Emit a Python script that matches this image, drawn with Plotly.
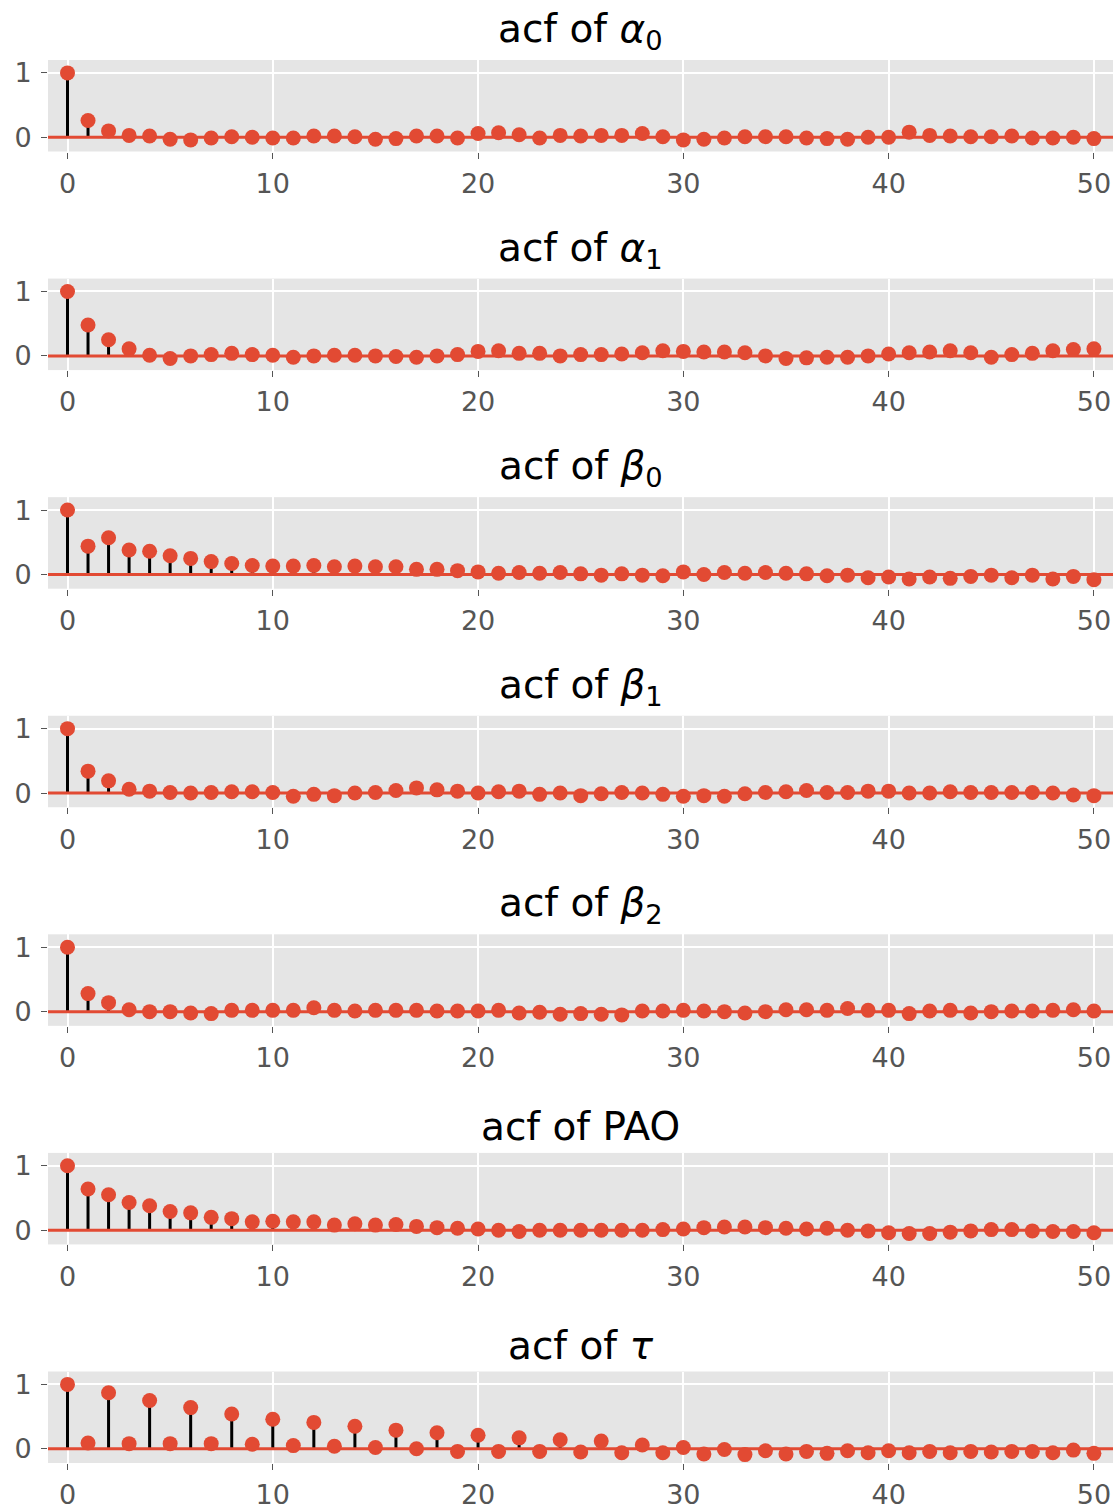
import plotly.graph_objects as go
from plotly.subplots import make_subplots

lags = list(range(51))

titles = ["acf of <i>α</i><sub>0</sub>", "acf of <i>α</i><sub>1</sub>",
          "acf of <i>β</i><sub>0</sub>", "acf of <i>β</i><sub>1</sub>",
          "acf of <i>β</i><sub>2</sub>", "acf of PAO", "acf of <i>τ</i>"]

acf_alpha0 = [1.0, 0.26, 0.10, 0.03, 0.02, -0.03, -0.04, -0.01, 0.01, 0.0,
              -0.01, -0.01, 0.02, 0.02, 0.01, -0.03, -0.02, 0.02, 0.02, -0.01,
              0.06, 0.07, 0.04, -0.01, 0.03, 0.02, 0.03, 0.03, 0.06, 0.01,
              -0.04, -0.03, -0.01, 0.01, 0.01, 0.01, -0.01, -0.02, -0.03, 0.0,
              0.0, 0.08, 0.03, 0.02, 0.01, 0.01, 0.02, -0.01, -0.01, 0.0, -0.02]

acf_alpha1 = [1.0, 0.48, 0.25, 0.11, 0.01, -0.04, 0.0, 0.02, 0.04, 0.02,
              0.01, -0.02, 0.0, 0.01, 0.01, 0.0, -0.01, -0.02, 0.0, 0.02,
              0.07, 0.08, 0.04, 0.04, 0.0, 0.02, 0.02, 0.03, 0.05, 0.08,
              0.07, 0.06, 0.06, 0.05, 0.0, -0.04, -0.03, -0.02, -0.02, 0.0,
              0.03, 0.05, 0.06, 0.08, 0.05, -0.02, 0.02, 0.04, 0.08, 0.10, 0.11]

acf_beta0 = [1.0, 0.44, 0.57, 0.38, 0.36, 0.29, 0.25, 0.20, 0.17, 0.14,
             0.13, 0.13, 0.14, 0.12, 0.13, 0.12, 0.12, 0.08, 0.08, 0.06,
             0.04, 0.02, 0.03, 0.02, 0.03, 0.01, -0.01, 0.01, -0.01, -0.02,
             0.04, 0.0, 0.03, 0.02, 0.03, 0.02, 0.01, -0.02, -0.01, -0.05,
             -0.04, -0.07, -0.04, -0.06, -0.03, -0.01, -0.05, -0.01, -0.07, -0.03, -0.08]

acf_beta1 = [1.0, 0.34, 0.19, 0.06, 0.03, 0.01, 0.0, 0.01, 0.02, 0.02,
             0.01, -0.05, -0.02, -0.04, 0.0, 0.01, 0.04, 0.08, 0.05, 0.03,
             0.0, 0.02, 0.03, -0.02, 0.0, -0.04, -0.01, 0.01, 0.0, -0.02,
             -0.05, -0.04, -0.05, -0.01, 0.01, 0.02, 0.04, 0.01, 0.01, 0.03,
             0.03, 0.0, 0.0, 0.02, 0.01, 0.01, 0.01, 0.01, 0.0, -0.03, -0.04]

acf_beta2 = [1.0, 0.28, 0.14, 0.03, 0.0, 0.0, -0.02, -0.03, 0.02, 0.02,
             0.02, 0.02, 0.06, 0.02, 0.01, 0.02, 0.02, 0.02, 0.01, 0.01,
             0.01, 0.02, -0.02, -0.01, -0.04, -0.03, -0.04, -0.05, 0.01, 0.01,
             0.02, 0.01, 0.0, -0.02, 0.0, 0.03, 0.03, 0.02, 0.05, 0.02,
             0.02, -0.03, 0.01, 0.02, -0.02, 0.0, 0.01, 0.01, 0.02, 0.03, 0.01]

acf_pao = [1.0, 0.64, 0.55, 0.43, 0.38, 0.29, 0.27, 0.20, 0.18, 0.13,
           0.14, 0.13, 0.13, 0.08, 0.10, 0.08, 0.09, 0.06, 0.04, 0.03,
           0.02, 0.0, -0.02, 0.0, 0.0, 0.0, 0.0, 0.0, 0.0, 0.01,
           0.02, 0.04, 0.05, 0.05, 0.04, 0.03, 0.02, 0.03, 0.0, -0.01,
           -0.04, -0.05, -0.05, -0.03, -0.01, 0.01, 0.01, -0.01, -0.02, -0.02, -0.04]

acf_tau = [1.0, 0.09, 0.87, 0.08, 0.75, 0.08, 0.64, 0.08, 0.54, 0.07,
           0.46, 0.05, 0.41, 0.04, 0.35, 0.02, 0.29, 0.0, 0.25, -0.04,
           0.21, -0.04, 0.17, -0.04, 0.14, -0.05, 0.12, -0.06, 0.06, -0.06,
           0.02, -0.08, -0.01, -0.09, -0.03, -0.08, -0.04, -0.07, -0.03, -0.06,
           -0.03, -0.06, -0.04, -0.06, -0.04, -0.05, -0.04, -0.04, -0.06, -0.02, -0.07]

series = [acf_alpha0, acf_alpha1, acf_beta0, acf_beta1, acf_beta2, acf_pao, acf_tau]

x_ticks = [0, 10, 20, 30, 40, 50]
y_ticks = [0, 1]

RED = "#E24A33"
BG = "#E5E5E5"
TICK = "#555555"
FONT = "DejaVu Sans"

W, H = 1120, 1509
mt, mb = 60, 46
plot_h = H - mt - mb
n = len(series)
panel_h = 91.5
gap = (plot_h - n * panel_h) / (n - 1)

fig = make_subplots(rows=n, cols=1, vertical_spacing=gap / plot_h)

for i, vals in enumerate(series):
    r = i + 1
    sx, sy = [], []
    for lag, v in zip(lags, vals):
        sx += [lag, lag, None]
        sy += [0, v, None]
    # stems
    fig.add_trace(go.Scatter(x=sx, y=sy, mode="lines",
                             line=dict(color="black", width=3),
                             hoverinfo="skip", showlegend=False), row=r, col=1)
    # baseline at zero, spanning beyond the visible range (clipped by the axes)
    fig.add_trace(go.Scatter(x=[lags[0] - 2, lags[-1] + 2], y=[0, 0], mode="lines",
                             line=dict(color=RED, width=3),
                             hoverinfo="skip", showlegend=False), row=r, col=1)
    # markers
    fig.add_trace(go.Scatter(x=lags, y=vals, mode="markers",
                             marker=dict(color=RED, size=15, line=dict(width=0)),
                             showlegend=False, cliponaxis=False), row=r, col=1)

fig.update_xaxes(range=[-0.95, 50.93], tickvals=x_ticks, showgrid=True, gridcolor="white",
                 gridwidth=1.6, zeroline=False, showline=False, ticks="outside", ticklen=6,
                 tickwidth=1.3, tickcolor=TICK, ticklabelstandoff=2, automargin=False,
                 tickfont=dict(family=FONT, size=27, color=TICK))
fig.update_yaxes(range=[-0.22, 1.2], tickvals=y_ticks, showgrid=True, gridcolor="white",
                 gridwidth=1.6, zeroline=False, showline=False, ticks="outside", ticklen=6,
                 tickwidth=1.3, tickcolor=TICK, ticklabelstandoff=4, automargin=False,
                 tickfont=dict(family=FONT, size=27, color=TICK))

for i, t in enumerate(titles):
    r = i + 1
    key = "yaxis" if r == 1 else f"yaxis{r}"
    top = fig.layout[key].domain[1]
    fig.add_annotation(text=t, xref="paper", yref="paper", x=0.5, y=top,
                       xanchor="center", yanchor="bottom", yshift=2, showarrow=False,
                       font=dict(family=FONT, size=39, color="black"))

fig.update_layout(width=W, height=H, plot_bgcolor=BG, paper_bgcolor="white",
                  margin=dict(l=48, r=7, t=mt, b=mb, autoexpand=False), showlegend=False)

fig.write_html("out.html")
